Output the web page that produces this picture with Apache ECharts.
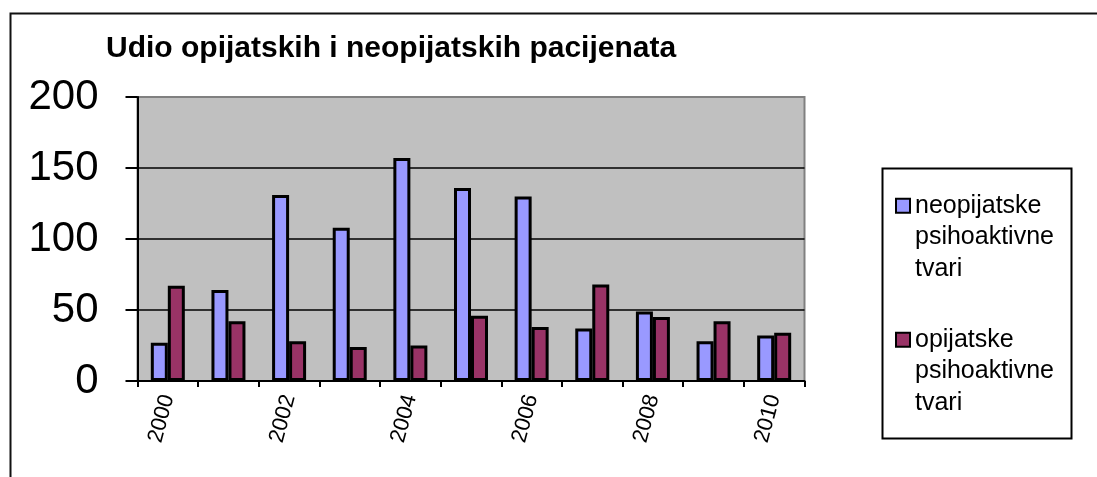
<!DOCTYPE html>
<html>
<head>
<meta charset="utf-8">
<script src="https://cdn.jsdelivr.net/npm/echarts@6/dist/echarts.min.js"></script>
<style>
html,body{margin:0;padding:0;background:#fff;}
#chart{width:1097px;height:477px;}
</style>
</head>
<body>
<div id="chart"></div>
<script>
// podaci
var godine = ['2000','2001','2002','2003','2004','2005','2006','2007','2008','2009','2010'];
var neopijatske = [27, 64, 131, 108, 157, 136, 130, 37, 49, 28, 32];
var opijatske = [67, 42, 28, 24, 25, 46, 38, 68, 45, 42, 34];
var yTicks = [0, 50, 100, 150, 200];
var nazivNeo = 'neopijatske psihoaktivne tvari';
var nazivOpi = 'opijatske psihoaktivne tvari';

var font = "'Liberation Sans', Arial, sans-serif";
var chart = echarts.init(document.getElementById('chart'));

// ikona legende ide uz prvi red teksta pa se dodaju dva prazna reda ispred
function legendaItem(name, top) {
    return {
        data: [name],
        orient: 'vertical',
        left: 895,
        top: top,
        padding: 0,
        icon: 'rect',
        itemWidth: 14,
        itemHeight: 14,
        selectedMode: false,
        formatter: function (n) { return '\n\n' + n.split(' ').join('\n'); },
        textStyle: {
            fontFamily: font,
            fontSize: 25,
            lineHeight: 31.5,
            color: '#000'
        }
    };
}

chart.setOption({
    animation: false,
    backgroundColor: '#fff',
    title: {
        text: 'Udio opijatskih i neopijatskih pacijenata',
        left: 106,
        top: 34,
        padding: 0,
        textStyle: {fontFamily: font, fontSize: 30, fontWeight: 'bold', color: '#000'}
    },
    legend: [legendaItem(nazivNeo, 127), legendaItem(nazivOpi, 261)],
    graphic: [
        {type: 'rect', left: 8, top: 11, silent: true, z: -10,
         shape: {width: 1200, height: 600}, style: {fill: null, stroke: '#111', lineWidth: 2}},
        {type: 'rect', left: 880, top: 166, silent: true,
         shape: {width: 189, height: 270}, style: {fill: null, stroke: '#000', lineWidth: 2}}
    ],
    grid: {
        left: 137.5, right: 292.5, top: 97, bottom: 96,
        outerBoundsMode: 'none',
        show: true,
        backgroundColor: '#C0C0C0',
        borderColor: '#808080',
        borderWidth: 2
    },
    xAxis: {
        type: 'category',
        data: godine,
        axisLine: {lineStyle: {color: '#000', width: 2}},
        axisTick: {show: true, interval: 0, length: 6, lineStyle: {color: '#000', width: 2}},
        axisLabel: {
            interval: 1,
            rotate: 75,
            margin: 14,
            fontFamily: font,
            fontSize: 22,
            color: '#000'
        },
        splitLine: {show: false}
    },
    yAxis: {
        type: 'value',
        min: yTicks[0],
        max: yTicks[yTicks.length - 1],
        interval: 50,
        axisLine: {show: true, lineStyle: {color: '#000', width: 2}},
        axisTick: {show: true, length: 12, lineStyle: {color: '#000', width: 2}},
        axisLabel: {margin: 39, fontFamily: font, fontSize: 42, color: '#000'},
        splitLine: {show: true, showMaxLine: false, lineStyle: {color: '#000', width: 1.5}}
    },
    series: [
        {
            name: nazivNeo,
            type: 'bar',
            data: neopijatske,
            barWidth: 17,
            barGap: '0%',
            itemStyle: {color: '#9999FF', borderColor: '#000', borderWidth: 3}
        },
        {
            name: nazivOpi,
            type: 'bar',
            data: opijatske,
            barWidth: 17,
            barGap: '0%',
            itemStyle: {color: '#993366', borderColor: '#000', borderWidth: 3}
        }
    ]
});
</script>
</body>
</html>
